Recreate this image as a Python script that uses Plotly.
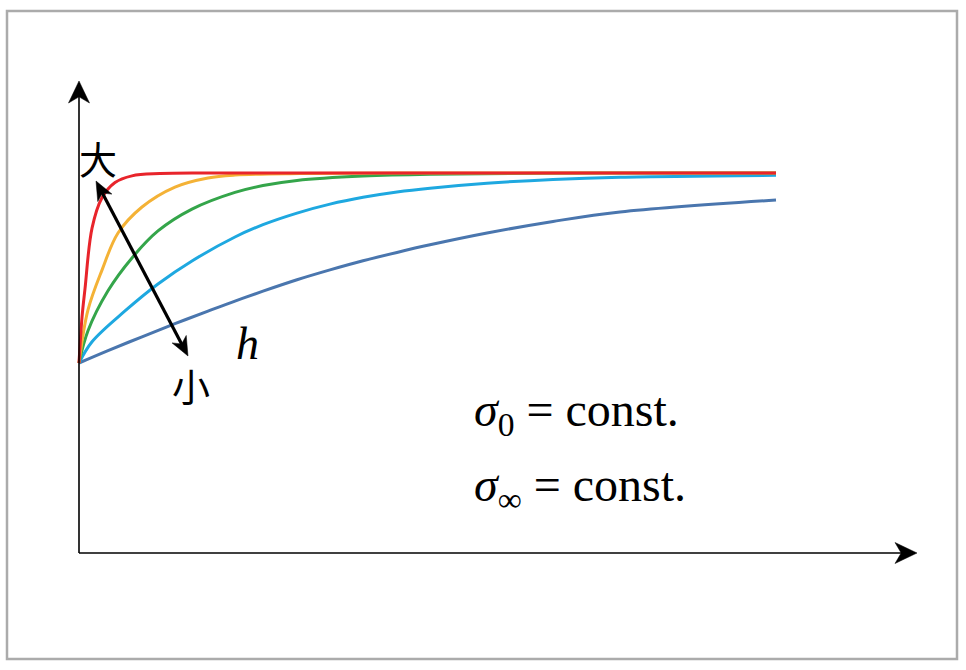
import math
import plotly.graph_objects as go

# ---- data (x: 0..10, y: start level 1, plateau 2) ----
red_x = [0, 0.043, 0.086, 0.187, 0.33, 0.517, 0.76, 1.16, 1.8, 3.0, 5.0, 7.5, 10.0]
red_y = [1.0, 1.24, 1.39, 1.71, 1.87, 1.95, 1.985, 1.997, 2.0, 2.0, 2.0, 2.0, 2.0]

orange_x = [0, 0.129, 0.33, 0.56, 0.904, 1.377, 1.85, 2.24, 3.17, 4.6, 7.5, 10.0]
orange_y = [1.0, 1.279, 1.489, 1.684, 1.821, 1.926, 1.974, 1.989, 1.997, 2.0, 2.0, 2.0]

green_x = [0, 0.129, 0.416, 0.76, 1.133, 1.621, 2.238, 2.64, 3.128, 4.074, 5.036, 7.475, 10.0]
green_y = [1.0, 1.17, 1.38, 1.553, 1.695, 1.81, 1.898, 1.934, 1.961, 1.984, 1.994, 2.0, 2.0]

cyan_x = [0, 0.187, 0.66, 1.133, 1.621, 2.238, 2.64, 3.128, 3.601, 4.075, 4.562, 5.036, 5.854, 6.801, 7.762, 10.0]
cyan_y = [1.0, 1.112, 1.274, 1.416, 1.537, 1.663, 1.728, 1.789, 1.836, 1.872, 1.9, 1.92, 1.946, 1.966, 1.978, 1.988]

blue_x = [0, 0.416, 0.904, 1.377, 1.851, 2.238, 2.64, 3.128, 3.601, 4.075, 4.562, 5.036, 5.854, 6.801, 7.762, 10.0]
blue_y = [1.0, 1.065, 1.138, 1.207, 1.273, 1.326, 1.378, 1.438, 1.49, 1.538, 1.582, 1.622, 1.684, 1.745, 1.795, 1.858]

series = [
    ("red", red_x, red_y, "#E8242B"),
    ("orange", orange_x, orange_y, "#F4B236"),
    ("green", green_x, green_y, "#34A54A"),
    ("cyan", cyan_x, cyan_y, "#1EA8E0"),
    ("blue", blue_x, blue_y, "#4A76AE"),
]

label_big = "大"
label_small = "小"
label_h = "h"
label_s0 = "<i>σ</i><sub>0</sub> = const."
label_sinf = "<i>σ</i><sub>∞</sub> = const."

# ---- figure ----
W, H = 966, 670
fig = go.Figure()
for name, xs, ys, col in series[::-1]:
    fig.add_trace(go.Scatter(x=xs, y=ys, mode="lines", name=name,
                             line=dict(color=col, width=3, shape="spline", smoothing=1.0),
                             hoverinfo="skip", showlegend=False))

# pixel mapping: x=0 -> 79px, 69.7 px/unit ; y=0 -> 553px, 190 px/unit
XPX, XS = 79, 69.7
YPX, YS = 553, 190.0
xr = [-XPX / XS, (W - XPX) / XS]
yr = [-(H - YPX) / YS, YPX / YS]

def px2x(p):
    return (p - XPX) / XS

def px2y(p):
    return (YPX - p) / YS

def arrow_head(tip, tail, L, Wd, notch=0.7):
    """filled notched arrowhead path (data coords) with tip at `tip`, pointing away from `tail` (pixels)"""
    dx, dy = tip[0] - tail[0], tip[1] - tail[1]
    n = math.hypot(dx, dy)
    ux, uy = dx / n, dy / n
    px_, py_ = -uy, ux
    pts = [
        tip,
        (tip[0] - L * ux + Wd / 2 * px_, tip[1] - L * uy + Wd / 2 * py_),
        (tip[0] - notch * L * ux, tip[1] - notch * L * uy),
        (tip[0] - L * ux - Wd / 2 * px_, tip[1] - L * uy - Wd / 2 * py_),
    ]
    d = "M" + " L".join(f"{px2x(a):.5f},{px2y(b):.5f}" for a, b in pts) + " Z"
    return dict(type="path", xref="x", yref="y", path=d, fillcolor="black",
                line=dict(color="black", width=0.5))

def seg(p0, p1, width):
    return dict(type="line", xref="x", yref="y", x0=px2x(p0[0]), y0=px2y(p0[1]),
                x1=px2x(p1[0]), y1=px2y(p1[1]), line=dict(color="black", width=width))

origin = (79, 553)
x_tip = (917, 553)
y_tip = (79, 81)
d_tip1 = (96, 181)
d_tip2 = (188, 356)

shapes = [
    dict(type="rect", xref="paper", yref="paper",
         x0=7 / W, x1=957 / W, y0=1 - 659 / H, y1=1 - 11 / H,
         line=dict(color="#ABABAB", width=2.5), fillcolor="rgba(0,0,0,0)"),
    seg(origin, (905, 553), 1.6),
    seg(origin, (79, 95), 1.6),
    arrow_head(x_tip, origin, 22, 21, 0.72),
    arrow_head(y_tip, origin, 22, 21, 0.72),
]
# diagonal double arrow (shaft shortened inside the heads)
ddx, ddy = d_tip2[0] - d_tip1[0], d_tip2[1] - d_tip1[1]
dn = math.hypot(ddx, ddy)
ux, uy = ddx / dn, ddy / dn
shapes.append(seg((d_tip1[0] + 10 * ux, d_tip1[1] + 10 * uy),
                  (d_tip2[0] - 10 * ux, d_tip2[1] - 10 * uy), 3.2))
shapes.append(arrow_head(d_tip1, d_tip2, 19, 16, 0.72))
shapes.append(arrow_head(d_tip2, d_tip1, 19, 16, 0.72))

annotations = []
annotations.append(dict(x=px2x(98), y=px2y(157), xref="x", yref="y", text=label_big, showarrow=False,
                        font=dict(family="Noto Sans CJK SC", size=38, color="black")))
annotations.append(dict(x=px2x(191), y=px2y(384), xref="x", yref="y", text=label_small, showarrow=False,
                        font=dict(family="Noto Sans CJK SC", size=38, color="black")))
annotations.append(dict(x=px2x(247), y=px2y(343), xref="x", yref="y", text="<i>" + label_h + "</i>",
                        showarrow=False,
                        font=dict(family="Liberation Serif", size=46, color="black")))
annotations.append(dict(x=px2x(472), y=px2y(413), xref="x", yref="y", text=label_s0, showarrow=False,
                        xanchor="left", font=dict(family="Liberation Serif", size=48, color="black")))
annotations.append(dict(x=px2x(472), y=px2y(488), xref="x", yref="y", text=label_sinf, showarrow=False,
                        xanchor="left", font=dict(family="Liberation Serif", size=48, color="black")))

fig.update_layout(
    width=W, height=H, margin=dict(l=0, r=0, t=0, b=0),
    paper_bgcolor="white", plot_bgcolor="white",
    xaxis=dict(range=xr, visible=False, fixedrange=True),
    yaxis=dict(range=yr, visible=False, fixedrange=True),
    annotations=annotations,
    shapes=shapes,
)

fig.write_html("out.html", config={"displayModeBar": False},
               post_script="document.body.style.margin='0';document.body.style.overflow='hidden';")
